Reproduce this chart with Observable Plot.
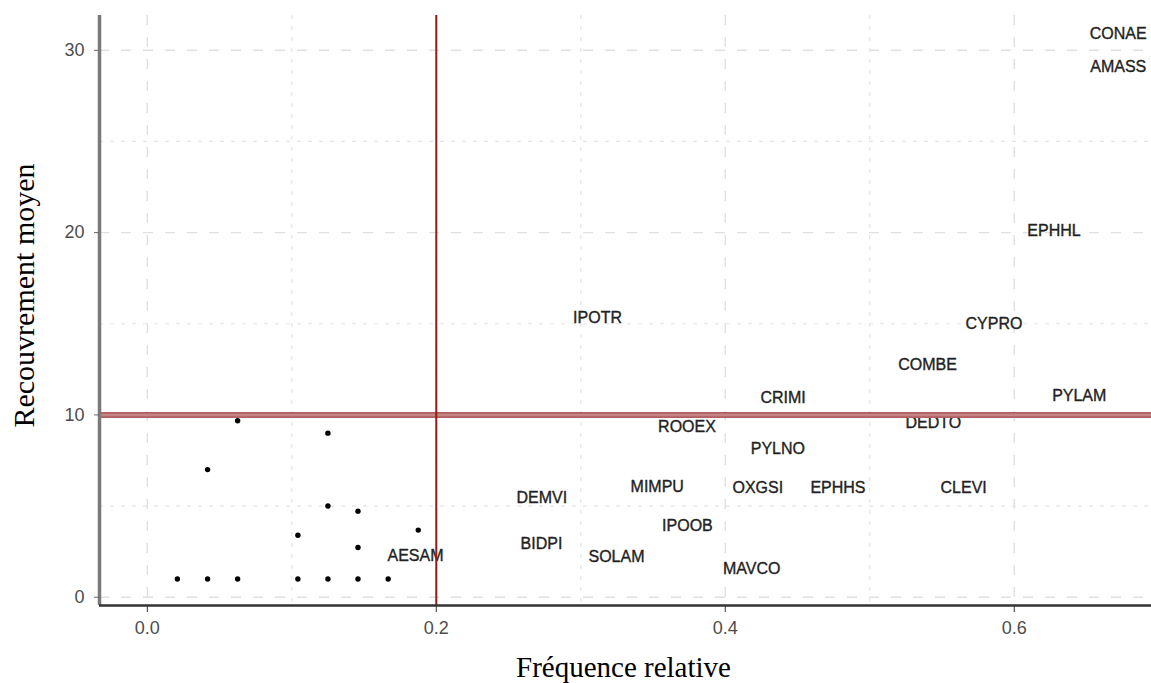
<!DOCTYPE html>
<html><head><meta charset="utf-8">
<script src="https://cdn.jsdelivr.net/npm/d3@7"></script>
<script src="https://cdn.jsdelivr.net/npm/@observablehq/plot@0.6"></script>
<style>
html,body{margin:0;padding:0;background:#fff;}
#chart{width:1151px;height:683px;}
</style></head><body><div id="chart"></div>
<script>
// Labelled species (frequency, mean cover)
const species = ["CONAE","AMASS","EPHHL","IPOTR","CYPRO","COMBE","CRIMI","PYLAM","ROOEX","DEDTO","PYLNO","MIMPU","OXGSI","EPHHS","CLEVI","DEMVI","IPOOB","BIDPI","SOLAM","MAVCO","AESAM"];
const speciesFreq = [0.672,0.672,0.6275,0.3116,0.586,0.540,0.440,0.645,0.3735,0.544,0.4364,0.3529,0.4225,0.478,0.565,0.273,0.3738,0.2728,0.3247,0.4183,0.1856];
const speciesCover = [30.9,29.1,20.08,15.34,15.01,12.75,10.94,11.03,9.33,9.57,8.14,6.03,5.99,6.02,6.02,5.45,3.93,2.93,2.19,1.56,2.29];
// Unlabelled species (points)
const otherFreq = [0.0208,0.0417,0.0625,0.1042,0.125,0.1458,0.1667,0.0625,0.0417,0.125,0.125,0.1458,0.1042,0.1458,0.1875];
const otherCover = [1.0,1.0,1.0,1.0,1.0,1.0,1.0,9.68,7.0,9.0,5.0,4.72,3.40,2.73,3.68];
// Thresholds
const freqThreshold = [0.2];
const coverThreshold = [10];
// Ticks
const xTicks = [0, 0.2, 0.4, 0.6];
const xMinor = [0.1, 0.3, 0.5];
const yTicks = [0, 10, 20, 30];
const yMinor = [5, 15, 25];
const xDomain = [-0.0331, 0.695];
const yDomain = [-0.455, 31.91];
const xTitle = ["Fréquence relative"];
const yTitle = ["Recouvrement moyen"];

const labelled = species.map((s, i) => ({code: s, freq: speciesFreq[i], cover: speciesCover[i]}));
const others = otherFreq.map((f, i) => ({freq: f, cover: otherCover[i]}));

const sans = "'Liberation Sans', Arial, Helvetica, sans-serif";
const serif = "'Liberation Serif', 'Times New Roman', serif";

const chart = Plot.plot({
  width: 1151,
  height: 683,
  marginLeft: 99,
  marginRight: 0,
  marginTop: 15,
  marginBottom: 78,
  style: {background: "white", fontFamily: sans},
  x: {domain: xDomain},
  y: {domain: yDomain},
  marks: [
    Plot.gridX(xMinor, {stroke: "#e4e4e4", strokeOpacity: 1, strokeWidth: 1.2, strokeDasharray: "4,7"}),
    Plot.gridY(yMinor, {stroke: "#e4e4e4", strokeOpacity: 1, strokeWidth: 1.2, strokeDasharray: "4,7"}),
    Plot.gridX(xTicks, {stroke: "#e0e0e0", strokeOpacity: 1, strokeWidth: 1.4, strokeDasharray: "10,12"}),
    Plot.gridY(yTicks, {stroke: "#e0e0e0", strokeOpacity: 1, strokeWidth: 1.4, strokeDasharray: "10,12"}),
    Plot.text(labelled, {x: "freq", y: "cover", text: "code", fontSize: 16, fill: "#222", stroke: "#222", strokeWidth: 0.35, fontFamily: sans}),
    Plot.dot(others, {x: "freq", y: "cover", r: 2.7, fill: "black", stroke: null}),
    Plot.ruleY(coverThreshold, {stroke: "#b06060", strokeWidth: 6}),
    Plot.ruleY(coverThreshold, {stroke: "#c58484", strokeWidth: 2.5}),
    Plot.ruleX(freqThreshold, {stroke: "#961818", strokeWidth: 2}),
    Plot.ruleX([xDomain[0]], {stroke: "#7a7a7a", strokeWidth: 3.5}),
    Plot.ruleY([yDomain[0]], {stroke: "#333333", strokeWidth: 2.5}),
    Plot.axisX(xTicks, {tickFormat: d3.format(".1f"), tickSize: 7, tickPadding: 9, fontSize: 18, stroke: "#333", fill: "#4d4d4d", label: null}),
    Plot.axisY(yTicks, {tickSize: 5, tickPadding: 10, fontSize: 18, stroke: "#666", fill: "#4d4d4d", label: null}),
    Plot.text(xTitle, {frameAnchor: "bottom", dx: -2, dy: 71, lineAnchor: "bottom", textAnchor: "middle", fontSize: 29, fontFamily: serif, fill: "#000"}),
    Plot.text(yTitle, {frameAnchor: "left", rotate: -90, dx: -66, dy: -15, lineAnchor: "bottom", textAnchor: "middle", fontSize: 30, fontFamily: serif, fill: "#000"})
  ]
});
document.getElementById("chart").appendChild(chart);
</script></body></html>
